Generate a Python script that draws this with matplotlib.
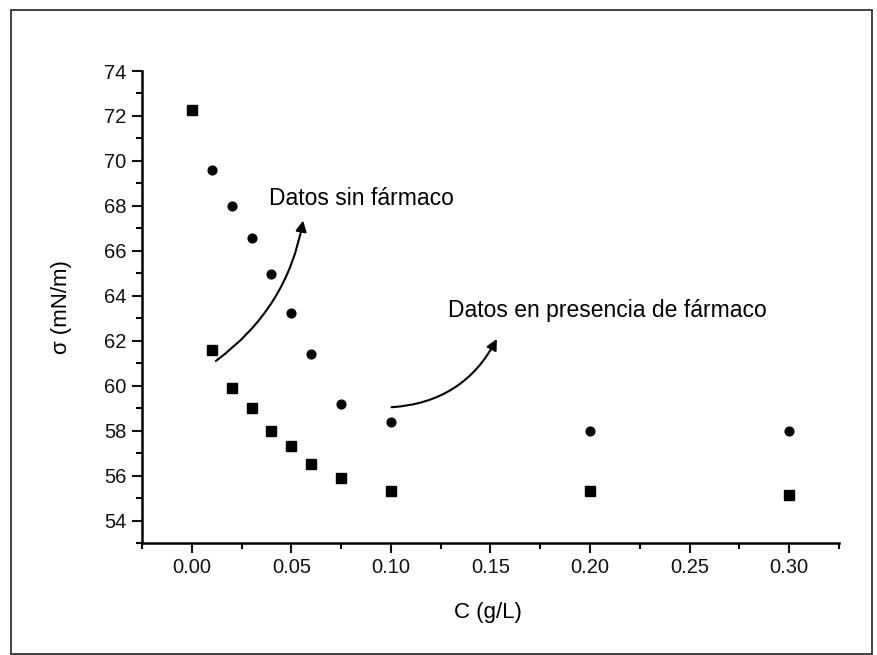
import matplotlib
matplotlib.use('Agg')
from matplotlib import pyplot as plt
from matplotlib.patches import Rectangle
from matplotlib.ticker import MultipleLocator

plt.rcParams['font.family'] = ['Liberation Sans', 'DejaVu Sans']

# surface tension, with and without drug
c_sin = [0.01, 0.02, 0.03, 0.04, 0.05, 0.06, 0.075, 0.10, 0.20, 0.30]
sigma_sin = [69.6, 68.0, 66.55, 64.95, 63.25, 61.4, 59.2, 58.4, 58.0, 58.0]

c_con = [0.0, 0.01, 0.02, 0.03, 0.04, 0.05, 0.06, 0.075, 0.10, 0.20, 0.30]
sigma_con = [72.25, 61.6, 59.9, 59.0, 58.0, 57.3, 56.5, 55.9, 55.3, 55.3, 55.15]

xticks = [0.00, 0.05, 0.10, 0.15, 0.20, 0.25, 0.30]
yticks = [54, 56, 58, 60, 62, 64, 66, 68, 70, 72, 74]


def show():
    fig = plt.figure(figsize=(8.78, 6.55), dpi=100)
    ax = fig.add_axes([0.1617, 0.171, 0.7939, 0.7206])

    ax.plot(c_sin, sigma_sin, 'o', color='black', markersize=6.3)
    ax.plot(c_con, sigma_con, 's', color='black', markersize=6.5)

    ax.set_xlim(-0.025, 0.325)
    ax.set_ylim(53, 74)
    ax.set_xticks(xticks)
    ax.set_xticklabels(['%.2f' % t for t in xticks])
    ax.set_yticks(yticks)
    ax.xaxis.set_minor_locator(MultipleLocator(0.025))
    ax.yaxis.set_minor_locator(MultipleLocator(1))

    for side in ['top', 'right']:
        ax.spines[side].set_visible(False)
    for side in ['left', 'bottom']:
        ax.spines[side].set_linewidth(1.8)
    ax.tick_params(which='major', direction='out', length=7, width=1.5,
                   labelsize=14.5, pad=4, colors='#111111')
    ax.tick_params(which='minor', direction='out', length=4, width=1.5)

    ax.set_xlabel('C (g/L)', fontsize=16)
    ax.set_ylabel('σ (mN/m)', fontsize=16)
    ax.xaxis.set_label_coords(0.496, -0.125)
    ax.yaxis.set_label_coords(-0.1, 0.5)

    ax.text(0.0388, 68.33, 'Datos sin fármaco', fontsize=16.5,
            ha='left', va='center')
    ax.text(0.1285, 63.33, 'Datos en presencia de fármaco', fontsize=16.5,
            ha='left', va='center')

    ax.annotate('', xy=(0.0559, 67.35), xytext=(0.0121, 61.10),
                arrowprops=dict(arrowstyle='-|>', color='black', lw=1.5,
                                connectionstyle='arc3,rad=0.2',
                                shrinkA=0, shrinkB=0, mutation_scale=16))
    ax.annotate('', xy=(0.1532, 62.08), xytext=(0.1003, 59.04),
                arrowprops=dict(arrowstyle='-|>', color='black', lw=1.5,
                                connectionstyle='arc3,rad=0.28',
                                shrinkA=0, shrinkB=0, mutation_scale=16))

    # outer border around the whole figure
    fig.patches.append(Rectangle((11 / 878, 1 / 655), 861 / 878, 644 / 655,
                                 transform=fig.transFigure, fill=False,
                                 edgecolor='#333333', linewidth=1.3))

    fig.savefig('out.png', dpi=100)


if __name__ == '__main__':
    show()
